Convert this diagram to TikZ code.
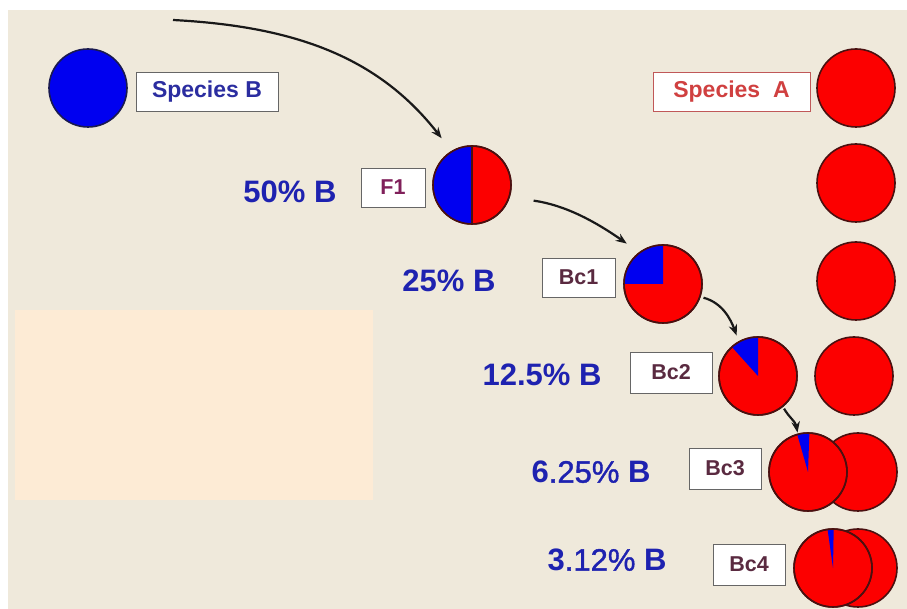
\documentclass[tikz,border=0pt]{standalone}
\usepackage{fontspec}
\setmainfont{Liberation Sans}
\newfontface\semibold{Liberation Sans}[FakeBold=1.2]
\usetikzlibrary{arrows.meta}
\definecolor{bgbeige}{HTML}{EFE9DB}
\definecolor{panel}{HTML}{FDEBD5}
\definecolor{spred}{HTML}{FC0000}
\definecolor{spblue}{HTML}{0000F0}
\definecolor{rimred}{HTML}{4A1010}
\definecolor{rimblue}{HTML}{1A1A50}
\definecolor{pctblue}{HTML}{1E22B0}
\definecolor{sbtext}{HTML}{2B2DA0}
\definecolor{f1text}{HTML}{80205A}
\definecolor{bctext}{HTML}{5A2A40}
\definecolor{satext}{HTML}{D04040}
\definecolor{saframe}{HTML}{C05858}
\tikzset{
  redball/.style={circle, fill=spred, draw=rimred, line width=1.6pt, minimum size=78pt, inner sep=0pt},
  blueball/.style={circle, fill=spblue, draw=rimblue, line width=1.6pt, minimum size=78pt, inner sep=0pt},
  rim/.style={circle, draw=rimred, line width=1.6pt, minimum size=78pt, inner sep=0pt},
  tag/.style={draw=black!60, fill=white, line width=0.9pt, inner sep=0pt, font=\bfseries\fontsize{21.5}{25}\selectfont},
  bigtag/.style={tag, minimum height=39pt, font=\bfseries\fontsize{23}{27}\selectfont},
  pct/.style={text=pctblue, inner sep=0pt, font=\bfseries\fontsize{31}{35}\selectfont},
  link/.style={-{Stealth[length=11pt,width=8.5pt]}, line width=2.2pt, black!90},
}
% draw a blue wedge from the top of a pie node, then its rim again
\newcommand{\wedgeB}[3]{%
  \fill[spblue] (#1.center) -- ++(#2:39pt) arc[start angle=#2, end angle=#3, radius=39pt] -- cycle;
  \node[rim] at (#1.center) {};}
\begin{document}
\begin{tikzpicture}[x=1pt,y=1pt]
\useasboundingbox (0,0) rectangle (907,609);
\fill[white] (0,0) rectangle (907,609);
\fill[bgbeige] (8,0) rectangle (907,599);
\fill[panel] (15,109) rectangle (373,299);

% parent species
\node[blueball] (spB) at (88,521) {};
\node[bigtag, text=sbtext, minimum width=142pt] (spBtag) at (207,517.5) {Species B};
\node[bigtag, text=satext, draw=saframe, minimum width=157pt] (spAtag) at (731.5,517.5) {Species\ \ A};

% column of recurrent species A parents
\node[redball] (a0) at (856,521) {};
\node[redball] (a1) at (856,426) {};
\node[redball] (a2) at (856,328) {};
\node[redball] (a3) at (854,233) {};
\node[redball] (a4) at (858,137) {};
\node[redball] (a5) at (858,41) {};

% hybrid and backcross generations
\node[redball] (f1) at (472,424) {};
\fill[spblue] (f1.center) ++(0,39) arc[start angle=90, end angle=270, radius=39pt] -- cycle;
\draw[rimred, line width=1.2pt] (f1.center) ++(0,39) -- ++(0,-78);
\node[rim] at (f1.center) {};

\node[redball] (bc1) at (663,325) {};
\wedgeB{bc1}{90}{180}
\node[redball] (bc2) at (758,233) {};
\wedgeB{bc2}{90}{132}
\node[redball] (bc3) at (808,137) {};
\wedgeB{bc3}{88}{106}
\node[redball] (bc4) at (833,41) {};
\wedgeB{bc4}{89}{98}

% generation tags
\node[tag, text=f1text, minimum width=64pt, minimum height=39pt] (f1tag) at (393,421.5) {F1};
\node[tag, text=bctext, minimum width=73pt, minimum height=39pt] (bc1tag) at (578.5,331.5) {Bc1};
\node[tag, text=bctext, minimum width=82pt, minimum height=41pt] (bc2tag) at (671,236.5) {Bc2};
\node[tag, text=bctext, minimum width=72pt, minimum height=41pt] (bc3tag) at (725,140.5) {Bc3};
\node[tag, text=bctext, minimum width=72pt, minimum height=41pt] (bc4tag) at (749,44.5) {Bc4};

% share of the species B genome
\node[pct] (p1) at (290,417) {50\% B};
\node[pct] (p2) at (449,328) {25\% B};
\node[pct] (p3) at (542,234) {12.5\% B};
\node[pct] (p4) at (591,137) {6{\semibold .25\%} B};
\node[pct] (p5) at (607,49) {3{\semibold .12\%} B};

% crossing arrows
\coordinate (start) at (173,589);
\draw[link, shorten >=16pt] (start) to[out=-3, in=128] (f1.121);
\draw[link, shorten <=24pt, shorten >=15pt] (f1.-18) to[out=-8, in=145] (bc1.127);
\draw[link, shorten <=3pt, shorten >=6pt] (bc1.-19) to[out=-15, in=110] (bc2.119);
\draw[link, shorten <=2pt, shorten >=1pt] (bc2.-51) to[out=-60, in=100] (bc3.105);
\end{tikzpicture}
\end{document}
